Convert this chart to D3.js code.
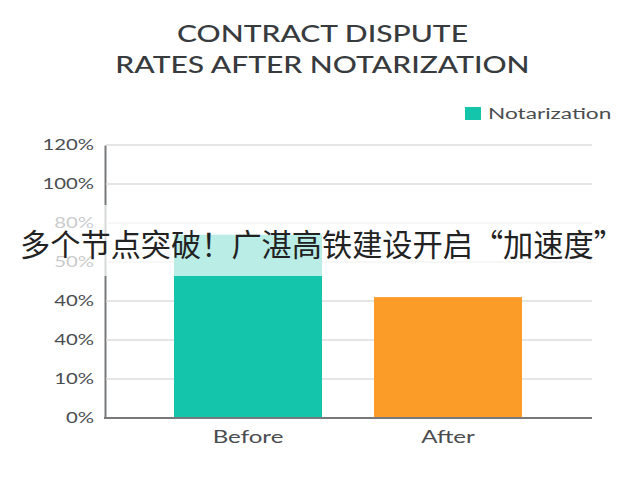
<!DOCTYPE html>
<html><head><meta charset="utf-8">
<script src="https://cdnjs.cloudflare.com/ajax/libs/d3/7.8.5/d3.min.js"></script>
<style>html,body{margin:0;padding:0;background:#fff}svg{display:block}</style></head>
<body><svg id="c" width="640" height="480"></svg>
<script>
const titleLines = ["CONTRACT DISPUTE", "RATES AFTER NOTARIZATION"];
const categories = ["Before", "After"];
const values = [71, 41];
const barColors = ["#14c4ab", "#fb9c28"];
const tickValues = [0, 10, 30, 40, 50, 80, 100, 120];
const tickLabels = ["0%", "10%", "40%", "40%", "50%", "80%", "100%", "120%"];
const legendLabel = "Notarization";
const banner = "多个节点突破！广湛高铁建设开启“加速度”";

const svg = d3.select("#c");
const font = "Lato, 'Open Sans', sans-serif";
const plotLeft = 105, plotRight = 592, plotBottom = 418, plotTop = 145;
const y = d3.scaleLinear().domain(tickValues)
  .range(tickValues.map((_, i) => plotBottom + (plotTop - plotBottom) * i / (tickValues.length - 1)));
const x = d3.scaleBand().domain(categories).range([174, 522]).paddingInner(0.26).paddingOuter(0);
// The reference face is much wider than any installed one, so widen the glyphs.
const widen = (sel, k) => sel.each(function () {
  d3.select(this).attr("textLength", this.getComputedTextLength() * k).attr("lengthAdjust", "spacingAndGlyphs");
});

svg.append("g").selectAll("text").data(titleLines).join("text")
  .attr("x", 322.5).attr("y", (d, i) => 42 + i * 30.5)
  .attr("text-anchor", "middle").attr("font-family", font).attr("font-size", 22.5).attr("font-weight", 500)
  .attr("fill", "#383b3e").text(d => d).call(widen, 1.335);

const yAxis = d3.axisLeft(y).tickValues(tickValues).tickSize(0).tickPadding(11)
  .tickFormat((d, i) => tickLabels[i]);
const gy = svg.append("g").attr("transform", `translate(${plotLeft},0)`).call(yAxis);
gy.select(".domain").attr("stroke", "#77797b").attr("stroke-width", 2);
gy.selectAll("text").attr("font-family", font).attr("font-size", 15.5).attr("fill", "#4a4d50").call(widen, 1.31);

svg.append("g").selectAll("line").data(tickValues.slice(1)).join("line")
  .attr("x1", plotLeft + 1).attr("x2", plotRight).attr("y1", d => y(d)).attr("y2", d => y(d))
  .attr("stroke", "#dcdcdc").attr("stroke-width", 1.5);

svg.append("g").selectAll("rect").data(categories).join("rect")
  .attr("x", d => x(d)).attr("width", x.bandwidth())
  .attr("y", (d, i) => y(values[i])).attr("height", (d, i) => plotBottom - y(values[i]))
  .attr("fill", (d, i) => barColors[i]);

svg.append("line").attr("x1", plotLeft - 1).attr("x2", plotRight).attr("y1", plotBottom).attr("y2", plotBottom)
  .attr("stroke", "#77797b").attr("stroke-width", 2);

const gx = svg.append("g").attr("transform", `translate(0,${plotBottom})`)
  .call(d3.axisBottom(x).tickSize(0).tickPadding(13));
gx.select(".domain").remove();
gx.selectAll("text").attr("font-family", font).attr("font-size", 16.5).attr("fill", "#4a4d50").call(widen, 1.46);

svg.append("rect").attr("x", 465).attr("y", 107).attr("width", 16).attr("height", 13).attr("fill", barColors[0]);
svg.append("text").attr("x", 488).attr("y", 119).attr("font-family", font).attr("font-size", 15.5)
  .attr("fill", "#4a4d50").text(legendLabel).call(widen, 1.46);

svg.append("rect").attr("x", 0).attr("y", 205).attr("width", 640).attr("height", 71)
  .attr("fill", "#fff").attr("fill-opacity", 0.7);
svg.append("text").attr("x", 322).attr("y", 255.5).attr("text-anchor", "middle")
  .attr("font-family", "'Noto Sans CJK SC', sans-serif").attr("font-size", 30.2)
  .attr("fill", "#222").text(banner);
</script></body></html>
